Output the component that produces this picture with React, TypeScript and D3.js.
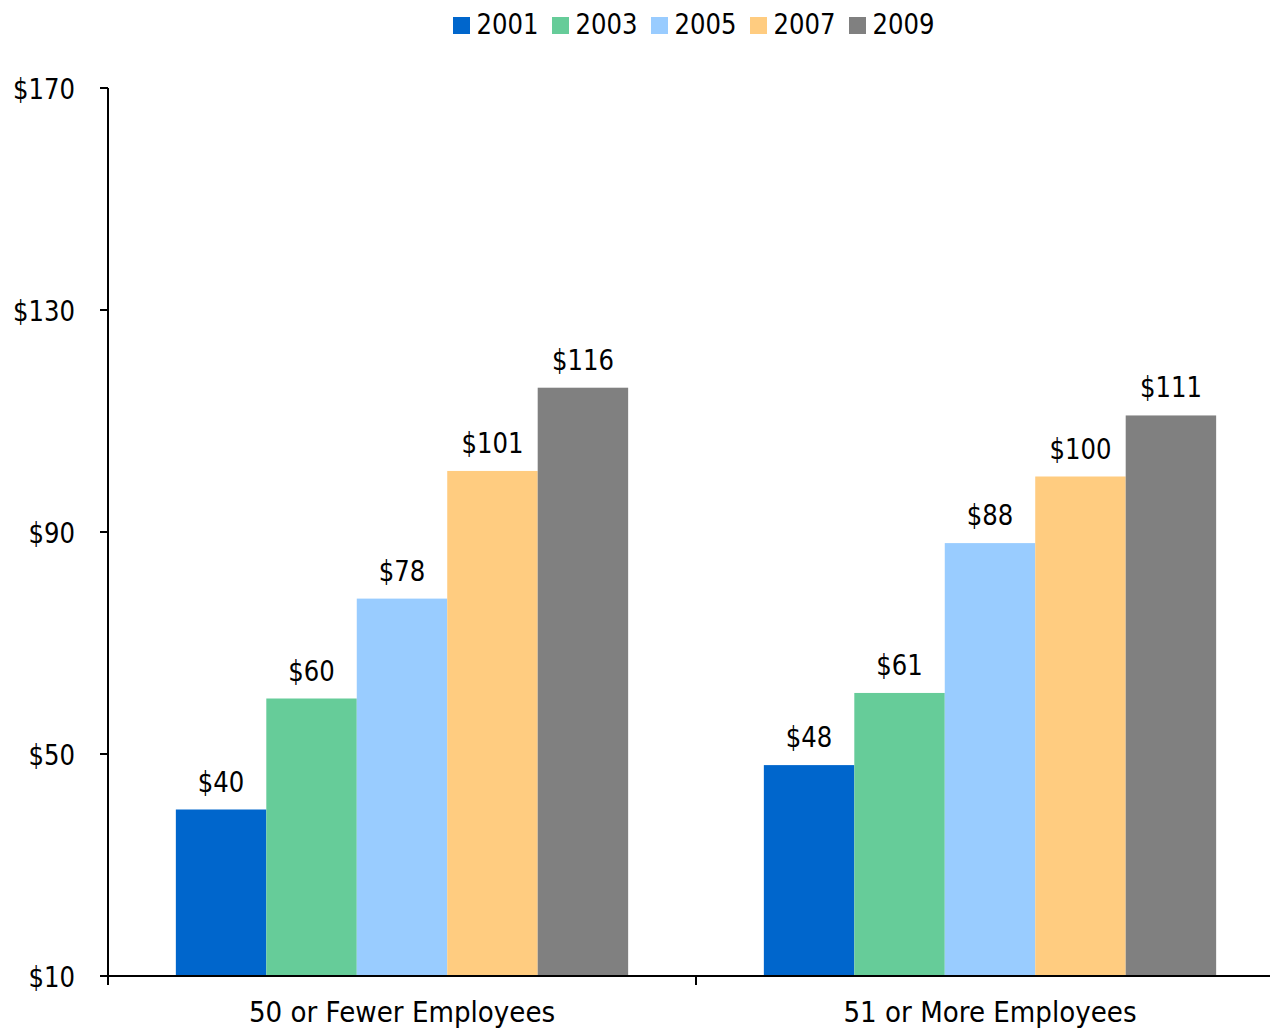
import React from "react";
import * as d3 from "d3";

// Average cost per employee, by firm size and survey year
const categories = ["50 or Fewer Employees", "51 or More Employees"];
const years = ["2001", "2003", "2005", "2007", "2009"];
const smallFirmValues = [40, 60, 78, 101, 116];
const largeFirmValues = [48, 61, 88, 100, 111];
const yTicks = [10, 50, 90, 130, 170];
const yearColors = ["#0066CC", "#66CC99", "#99CCFF", "#FFCC80", "#808080"];

const seriesByCategory = [smallFirmValues, largeFirmValues];

const W = 1270;
const H = 1028;
const FONT = "'DejaVu Sans', Verdana, sans-serif";
const FS = 28;
const NUM_SX = 0.87; // horizontal squeeze for numeric text
const CAT_SX = 0.935; // horizontal squeeze for category labels

export default function App() {
  const y = d3.scaleLinear().domain([10, 170]).range([976, 88]);
  const x = d3.scaleBand<string>().domain(categories).range([108, 1284]).paddingInner(0).paddingOuter(0);
  const xYear = d3
    .scaleBand<string>()
    .domain(years)
    .range([0, x.bandwidth()])
    .paddingInner(0)
    .paddingOuter(0.75);

  const axisLeft = 108;
  const axisBottom = y(10);
  const legendStart = 453;
  const legendStep = 99;

  return (
    <svg
      width={W}
      height={H}
      style={{ position: "absolute", left: 0, top: 0, display: "block", background: "#fff" }}
      fontFamily={FONT}
      fontSize={FS}
    >
      {/* legend */}
      {years.map((yr, i) => {
        const lx = legendStart + i * legendStep;
        return (
          <g key={yr}>
            <rect x={lx} y={17} width={17} height={17} fill={yearColors[i]} />
            <text transform={`translate(${lx + 23.5},33.5) scale(${NUM_SX},1)`} fill="#000">
              {yr}
            </text>
          </g>
        );
      })}

      {/* bars and value labels */}
      {categories.map((cat, ci) => (
        <g key={cat} transform={`translate(${x(cat)},0)`}>
          {seriesByCategory[ci].map((v, yi) => {
            const bx = xYear(years[yi])!;
            const bw = xYear.bandwidth();
            const top = y(v);
            return (
              <g key={years[yi]}>
                <rect x={bx} y={top} width={bw} height={axisBottom - top} fill={yearColors[yi]} />
                <text
                  transform={`translate(${bx + bw / 2},${top - 18}) scale(${NUM_SX},1)`}
                  textAnchor="middle"
                  fill="#000"
                >
                  {"$" + v}
                </text>
              </g>
            );
          })}
        </g>
      ))}

      {/* y axis */}
      <line x1={axisLeft} x2={axisLeft} y1={y(170)} y2={axisBottom} stroke="#000" strokeWidth={2} />
      {yTicks.map((t) => (
        <g key={t}>
          <line x1={axisLeft - 8} x2={axisLeft} y1={y(t)} y2={y(t)} stroke="#000" strokeWidth={2} />
          <text
            transform={`translate(75,${y(t) + 10.5}) scale(${NUM_SX},1)`}
            textAnchor="end"
            fill="#000"
          >
            {"$" + t}
          </text>
        </g>
      ))}

      {/* x axis */}
      <line x1={axisLeft} x2={x.range()[1]} y1={axisBottom} y2={axisBottom} stroke="#000" strokeWidth={2} />
      {[...categories.map((c) => x(c)!), x.range()[1]].map((px, i) => (
        <line key={i} x1={px} x2={px} y1={axisBottom} y2={axisBottom + 9} stroke="#000" strokeWidth={2} />
      ))}
      {categories.map((cat) => (
        <text
          key={cat}
          transform={`translate(${x(cat)! + x.bandwidth() / 2},1022) scale(${CAT_SX},1)`}
          textAnchor="middle"
          fill="#000"
        >
          {cat}
        </text>
      ))}
    </svg>
  );
}
